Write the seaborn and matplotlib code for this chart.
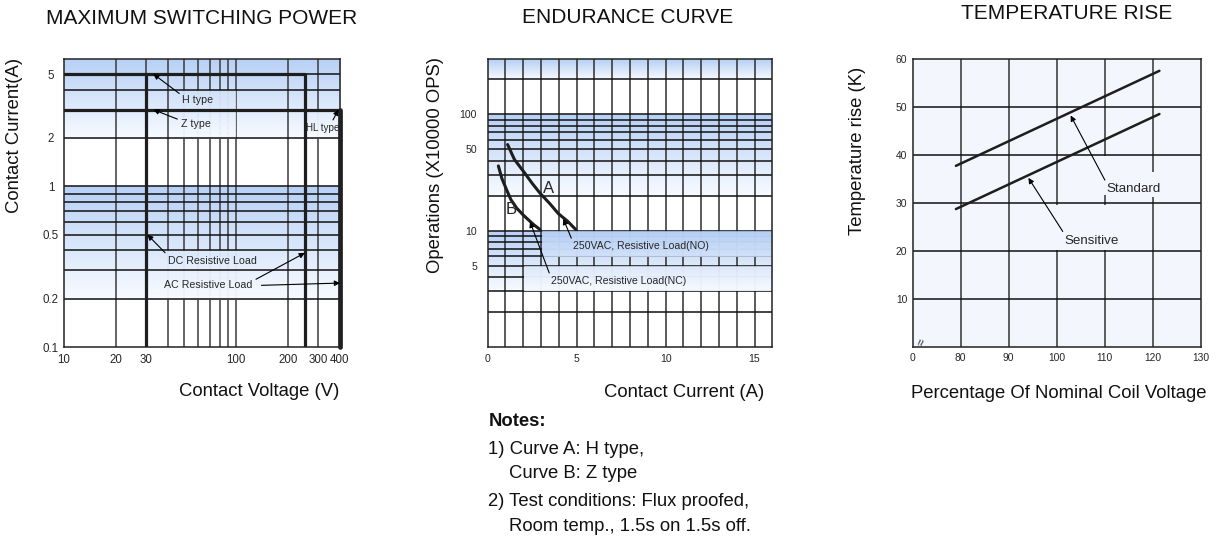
import numpy as np
import matplotlib
matplotlib.use("Agg")
import matplotlib.pyplot as plt
import seaborn as sns
from matplotlib.colors import to_rgb

# ---------------- data ----------------
# Panel 1: maximum switching power (voltage V, current A)
h_type_v = [10, 250, 250]
h_type_a = [5, 5, 0.1]
dc_limit_v = [30, 30]
dc_limit_a = [5, 0.1]
z_type_v = [10, 400]
z_type_a = [3, 3]
hl_type_v = [400, 400]
hl_type_a = [3, 0.1]
p1_xticks = [10, 20, 30, 100, 200, 300, 400]
p1_xticklabels = ["10", "20", "30", "100", "200", "300", "400"]
p1_yticks = [0.1, 0.2, 0.5, 1, 2, 5]
p1_yticklabels = ["0.1", "0.2", "0.5", "1", "2", "5"]

# Panel 2: endurance curve (current A, operations x10000)
curve_a_x = [1.12, 1.5, 2.1, 2.5, 2.94, 3.5, 3.97, 4.5, 4.95]
curve_a_y = [55, 41, 31, 25.5, 21, 17, 14, 12, 10.2]
curve_b_x = [0.6, 0.8, 1.07, 1.3, 1.63, 2.0, 2.28, 2.6, 2.94]
curve_b_y = [36, 28, 22.3, 18.5, 15.6, 13.6, 12.4, 11.2, 10.2]
p2_xticks = [0, 5, 10, 15]
p2_xticklabels = ["0", "5", "10", "15"]
p2_yticks = [5, 10, 50, 100]
p2_yticklabels = ["5", "10", "50", "100"]

# Panel 3: temperature rise (% nominal coil voltage, K)
standard_x = [79, 121.4]
standard_y = [37.8, 57.6]
sensitive_x = [79, 121.4]
sensitive_y = [28.8, 48.6]
p3_xticks = [70, 80, 90, 100, 110, 120, 130]
p3_xticklabels = ["0", "80", "90", "100", "110", "120", "130"]
p3_yticks = [10, 20, 30, 40, 50, 60]
p3_yticklabels = ["10", "20", "30", "40", "50", "60"]

titles = ["MAXIMUM SWITCHING POWER", "ENDURANCE CURVE", "TEMPERATURE RISE"]
xlabels = ["Contact Voltage (V)", "Contact Current (A)", "Percentage Of Nominal Coil Voltage"]
ylabels = ["Contact Current(A)", "Operations (X10000 OPS)", "Temperature rise (K)"]
notes_lines = ["1) Curve A: H type,", "Curve B: Z type",
               "2) Test conditions: Flux proofed,", "Room temp., 1.5s on 1.5s off."]

# ---------------- style ----------------
sns.set_theme(style="white")
plt.rcParams["font.family"] = ["Liberation Sans", "DejaVu Sans"]

W, H = 1217, 537
fig = plt.figure(figsize=(W / 100, H / 100), dpi=100)
ax1 = fig.add_axes([64 / W, 1 - 347 / H, 276 / W, 288 / H])
ax2 = fig.add_axes([487.7 / W, 1 - 346.7 / H, 284.6 / W, 287.7 / H])
ax3 = fig.add_axes([912.7 / W, 1 - 347.3 / H, 288 / W, 288 / H])

BLUE = "#b5cff5"
PALE = "#f8fbff"
WHITE = "#ffffff"
P3BG = "#f3f6fd"
LINE = "#1e1e1e"


def mix(c1, c2, t):
    a, b = np.array(to_rgb(c1)), np.array(to_rgb(c2))
    return tuple(a + (b - a) * t)


def color_fn(bands):
    def f(y):
        for yt, yb in bands:
            if yb <= y <= yt:
                t = np.log(yt / y) / np.log(yt / yb)
                return mix(BLUE, PALE, t)
        return to_rgb(WHITE)
    return f


def shade(ax, x0, x1, y0, y1, cf, z, n=40):
    edges = np.geomspace(y1, y0, n + 1)
    for a, b in zip(edges[:-1], edges[1:]):
        c = cf(np.sqrt(a * b))
        ax.fill_between([x0, x1], b, a, color=c, ec=c, lw=0.4, zorder=z)


def flat(ax, x0, x1, y0, y1, c, z):
    ax.fill_between([x0, x1], y0, y1, color=c, lw=0, zorder=z)


arrow = dict(arrowstyle="-|>", color="black", lw=0.8, mutation_scale=8,
             shrinkA=0, shrinkB=0)


def arr(relpos):
    d = dict(arrow)
    d["relpos"] = relpos
    return d


for ax in (ax1, ax2, ax3):
    for s in ax.spines.values():
        s.set_color("#222222")
        s.set_linewidth(1.1)
        s.set_zorder(5)
    ax.tick_params(length=0)

# ================= Panel 1 =================
ax1.set_xscale("log")
ax1.set_yscale("log")
ax1.set_xlim(10, 400)
ax1.set_ylim(0.1, 6.2)
bands1 = [(6.2, 2.0), (1.0, 0.2)]
cf1 = color_fn(bands1)
for yt, yb in bands1:
    shade(ax1, 10, 400, yb, yt, cf1, 0.1)
for v in [20, 30, 40, 50, 60, 70, 80, 90, 100, 200, 300]:
    ax1.axvline(v, color="#3a3a3a", lw=1.1, zorder=0.5)
# label masks (hide vertical grid)
shade(ax1, 41, 98, 2.0, 4.0, cf1, 0.7)
shade(ax1, 31, 185, 0.2, 0.4, cf1, 0.7)
shade(ax1, 262, 396, 2.0, 3.0, cf1, 0.7)
for h in [0.2, 0.3, 0.4, 0.5, 0.6, 0.7, 0.8, 0.9, 1, 2, 3, 4, 5]:
    ax1.axhline(h, color="#111111", lw=1.1, zorder=0.9)

sns.lineplot(x=h_type_v, y=h_type_a, ax=ax1, color=LINE, lw=2.3, sort=False,
             estimator=None, zorder=3)
sns.lineplot(x=dc_limit_v, y=dc_limit_a, ax=ax1, color=LINE, lw=2.3, sort=False,
             estimator=None, zorder=3)
sns.lineplot(x=z_type_v, y=z_type_a, ax=ax1, color=LINE, lw=2.3, sort=False,
             estimator=None, zorder=3)
sns.lineplot(x=hl_type_v, y=hl_type_a, ax=ax1, color=LINE, lw=3.4, sort=False,
             estimator=None, zorder=3, clip_on=False)

fs_a = 7.7
ax1.annotate("H type", xy=(33, 5), xytext=(60, 3.45), fontsize=fs_a, ha="center",
             va="center", arrowprops=arr((0, 0.9)), zorder=4)
ax1.annotate("Z type", xy=(33, 3), xytext=(58, 2.43), fontsize=fs_a, ha="center",
             va="center", arrowprops=arr((0, 0.9)), zorder=4)
ax1.annotate("HL type", xy=(392, 3), xytext=(318, 2.3), fontsize=7.1, ha="center",
             va="center", arrowprops=arr((0.75, 1)), zorder=4)
ax1.annotate("DC Resistive Load", xy=(30.5, 0.5), xytext=(73, 0.343), fontsize=fs_a,
             ha="center", va="center", arrowprops=arr((0, 1)), zorder=4)
ax1.annotate("AC Resistive Load", xy=(250, 0.385), xytext=(69, 0.243), fontsize=fs_a,
             ha="center", va="center", arrowprops=arr((1, 0.9)), zorder=4)
ax1.annotate("", xy=(400, 0.25), xytext=(140, 0.242), arrowprops=arrow, zorder=4,
             annotation_clip=False)

ax1.set_xticks(p1_xticks, p1_xticklabels)
ax1.set_yticks(p1_yticks, p1_yticklabels)
ax1.xaxis.set_minor_locator(matplotlib.ticker.NullLocator())
ax1.yaxis.set_minor_locator(matplotlib.ticker.NullLocator())
ax1.tick_params(axis="both", labelsize=8.3)
ax1.tick_params(axis="x", pad=5)
ax1.tick_params(axis="y", pad=9.4)
for lab in ax1.get_yticklabels():
    lab.set_ha("center")

# ================= Panel 2 =================
ax2.set_yscale("log")
ax2.set_xlim(0, 16)
ax2.set_ylim(1, 300)
bands2 = [(300, 200), (100, 20), (10, 3)]
cf2 = color_fn(bands2)
for yt, yb in bands2:
    shade(ax2, 0, 16, yb, yt, cf2, 0.1)
for v in range(1, 16):
    ax2.axvline(v, color="#2e2e2e", lw=1.1, zorder=0.5)
for h in [2, 3, 4, 5, 6, 7, 8, 9, 10, 20, 30, 40, 50, 60, 70, 80, 90, 100, 200]:
    ax2.axhline(h, color="#111111", lw=1.1, zorder=0.9)
# label boxes
shade(ax2, 3.04, 16, 6.07, 9.88, cf2, 1.0)
shade(ax2, 2.04, 16, 3.05, 4.93, cf2, 1.0)

sns.lineplot(x=curve_a_x, y=curve_a_y, ax=ax2, color=LINE, lw=2.2, sort=False,
             estimator=None, zorder=3)
sns.lineplot(x=curve_b_x, y=curve_b_y, ax=ax2, color=LINE, lw=2.2, sort=False,
             estimator=None, zorder=3)
ax2.text(3.4, 23, "A", fontsize=12, ha="center", va="center", zorder=4)
ax2.text(1.31, 15.2, "B", fontsize=12, ha="center", va="center", zorder=4)
ax2.annotate("250VAC, Resistive Load(NO)", xy=(4.25, 12.6), xytext=(4.8, 7.3),
             fontsize=7.6, ha="left", va="center", arrowprops=arr((0, 0.9)), zorder=4)
ax2.annotate("250VAC, Resistive Load(NC)", xy=(2.38, 11.9), xytext=(3.55, 3.66),
             fontsize=7.6, ha="left", va="center", arrowprops=arr((0, 0.9)), zorder=4)

ax2.set_xticks(p2_xticks, p2_xticklabels)
ax2.set_yticks(p2_yticks, p2_yticklabels)
ax2.yaxis.set_minor_locator(matplotlib.ticker.NullLocator())
ax2.tick_params(axis="both", labelsize=7.6)
ax2.tick_params(axis="x", pad=5.5)
ax2.tick_params(axis="y", pad=7.7)

# ================= Panel 3 =================
ax3.set_xlim(70, 130)
ax3.set_ylim(0, 60)
ax3.set_facecolor(P3BG)
for v in [80, 90, 100, 110, 120]:
    ax3.axvline(v, color="#333333", lw=1.1, zorder=0.5)
for h in [10, 20, 30, 40, 50]:
    ax3.axhline(h, color="#111111", lw=1.1, zorder=0.9)
flat(ax3, 99.3, 110.7, 20.3, 29.7, P3BG, 0.7)
flat(ax3, 109.3, 110.7, 31.7, 39.8, P3BG, 0.7)
flat(ax3, 119.3, 120.7, 31.4, 36.6, P3BG, 0.7)

sns.lineplot(x=standard_x, y=standard_y, ax=ax3, color=LINE, lw=1.8, sort=False,
             estimator=None, zorder=3)
sns.lineplot(x=sensitive_x, y=sensitive_y, ax=ax3, color=LINE, lw=1.8, sort=False,
             estimator=None, zorder=3)
ax3.annotate("Standard", xy=(102.9, 48.3), xytext=(110.4, 32.9), fontsize=9.6,
             ha="left", va="center", arrowprops=arr((0, 1)), zorder=4)
ax3.annotate("Sensitive", xy=(94.1, 35.3), xytext=(101.7, 22.2), fontsize=9.6,
             ha="left", va="center", arrowprops=arr((0, 1)), zorder=4)
ax3.text(72.0, 1.0, "≈", fontsize=9, rotation=75, ha="center", va="center", zorder=4)

ax3.set_xticks(p3_xticks, p3_xticklabels)
ax3.set_yticks(p3_yticks, p3_yticklabels)
ax3.tick_params(axis="both", labelsize=7.4)
ax3.tick_params(axis="x", pad=4)
ax3.tick_params(axis="y", pad=4)

# ================= titles & labels =================
title_pos = [(0.5, 1.139), (0.493, 1.143), (0.536, 1.16)]
xlab_pos = [(0.707, -0.153), (0.69, -0.16), (0.508, -0.159)]
ylab_pos = [(-0.178, 0.733), (-0.182, 0.632), (-0.193, 0.682)]
for ax, t, xl, yl, tp, xp, yp in zip((ax1, ax2, ax3), titles, xlabels, ylabels,
                                     title_pos, xlab_pos, ylab_pos):
    ax.set_title(t, fontsize=15, x=tp[0], y=tp[1], va="center", pad=0, color="#111111")
    ax.set_xlabel(xl, fontsize=13.3, va="center", color="#111111")
    ax.set_ylabel(yl, fontsize=13.3, va="center", color="#111111")
    ax.xaxis.set_label_coords(*xp)
    ax.yaxis.set_label_coords(*yp)

fig.text(489 / W, 1 - 421.7 / H, "Notes:", fontsize=13.3, fontweight="bold",
         ha="left", va="center", color="#111111")
note_x = [488, 509, 488, 509]
note_y = [449, 474, 501.7, 526.7]
for s, nx, ny in zip(notes_lines, note_x, note_y):
    fig.text(nx / W, 1 - ny / H, s, fontsize=13.3, ha="left", va="center",
             color="#111111")

fig.savefig("out.png", dpi=100)
